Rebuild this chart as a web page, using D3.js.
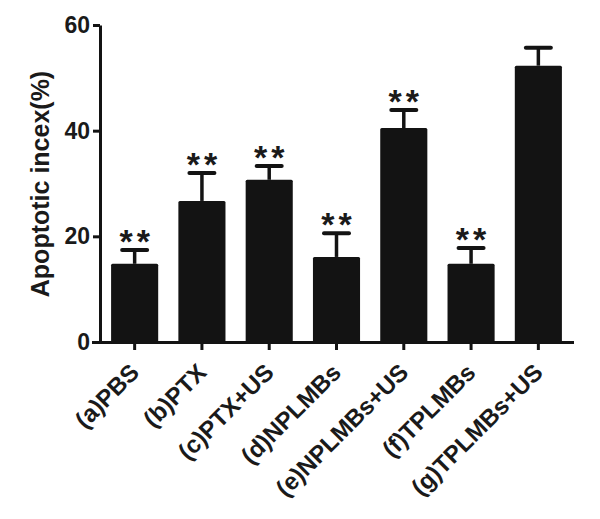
<!DOCTYPE html>
<html>
<head>
<meta charset="utf-8">
<script src="https://cdn.jsdelivr.net/npm/d3@7"></script>
<style>
  body { margin: 0; background: #fff; }
  svg { display: block; }
  text { font-family: "Liberation Sans", Arial, sans-serif; font-weight: bold; fill: #1a1a1a; }
</style>
</head>
<body>
<div id="chart"></div>
<script>
// data
const groups = ["(a)PBS", "(b)PTX", "(c)PTX+US", "(d)NPLMBs", "(e)NPLMBs+US", "(f)TPLMBs", "(g)TPLMBs+US"];
const means = [14.8, 26.7, 30.7, 16.1, 40.5, 14.8, 52.3];
const errors = [2.6, 5.3, 2.6, 4.5, 3.4, 3.0, 3.4];
const stars = ["**", "**", "**", "**", "**", "**", ""];
const yTicks = [0, 20, 40, 60];

const width = 600, height = 519;
const ink = "#131313";

const svg = d3.select("#chart").append("svg")
    .attr("width", width)
    .attr("height", height);

// scales
const x = d3.scaleBand()
    .domain(groups)
    .range([101, 572])
    .paddingInner(0.3)
    .paddingOuter(0.15);

const y = d3.scaleLinear().domain([0, 60]).range([342, 25]);

const rows = groups.map((g, i) => ({ g, m: means[i], e: errors[i], s: stars[i] }));
const cx = d => x(d.g) + x.bandwidth() / 2;

// bars
svg.selectAll(".bar")
    .data(rows)
    .enter().append("rect")
    .attr("class", "bar")
    .attr("x", d => x(d.g))
    .attr("y", d => y(d.m))
    .attr("width", x.bandwidth())
    .attr("height", d => y(0) - y(d.m))
    .attr("rx", 1.5)
    .attr("fill", ink);

// error bars (upper only)
const capW = 25;
svg.selectAll(".err")
    .data(rows)
    .enter().append("line")
    .attr("x1", cx).attr("x2", cx)
    .attr("y1", d => y(d.m))
    .attr("y2", d => y(d.m + d.e))
    .attr("stroke", ink)
    .attr("stroke-width", 3.5);

svg.selectAll(".cap")
    .data(rows)
    .enter().append("line")
    .attr("x1", d => cx(d) - capW / 2)
    .attr("x2", d => cx(d) + capW / 2)
    .attr("y1", d => y(d.m + d.e))
    .attr("y2", d => y(d.m + d.e))
    .attr("stroke", ink)
    .attr("stroke-width", 4)
    .attr("stroke-linecap", "round");

// significance stars
svg.selectAll(".star")
    .data(rows.filter(d => d.s))
    .enter().append("text")
    .attr("x", d => cx(d) + 2)
    .attr("y", d => y(d.m + d.e) + 3)
    .attr("text-anchor", "middle")
    .style("font-size", "34px")
    .style("letter-spacing", "4px")
    .text(d => d.s);

// y axis
const yAxis = svg.append("g")
    .attr("transform", "translate(100,0)")
    .call(d3.axisLeft(y).tickValues(yTicks).tickSize(7).tickPadding(3).tickSizeOuter(0));
yAxis.select(".domain").attr("stroke", ink).attr("stroke-width", 3);
yAxis.selectAll(".tick line").attr("stroke", ink).attr("stroke-width", 3);
yAxis.selectAll(".tick text").style("font-size", "23px");

// x axis (ticks only, labels drawn below)
const xAxis = svg.append("g")
    .attr("transform", "translate(0,342)")
    .call(d3.axisBottom(x).tickSize(8).tickSizeOuter(0).tickFormat(""));
xAxis.select(".domain")
    .attr("d", "M92,0.5H574")
    .attr("stroke", ink).attr("stroke-width", 3);
xAxis.selectAll(".tick line").attr("stroke", ink).attr("stroke-width", 3);

// rotated category labels, baseline ends just right of each tick
svg.selectAll(".xlab")
    .data(groups)
    .enter().append("text")
    .attr("class", "xlab")
    .attr("x", d => x(d) + x.bandwidth() / 2 + 6)
    .attr("y", 374)
    .attr("transform", d => `rotate(-45,${x(d) + x.bandwidth() / 2 + 6},374)`)
    .attr("text-anchor", "end")
    .style("font-size", "24px")
    .text(d => d);

// y label
svg.append("text")
    .attr("transform", "translate(49,184) rotate(-90)")
    .attr("text-anchor", "middle")
    .style("font-size", "25px")
    .text("Apoptotic incex(%)");
</script>
</body>
</html>
